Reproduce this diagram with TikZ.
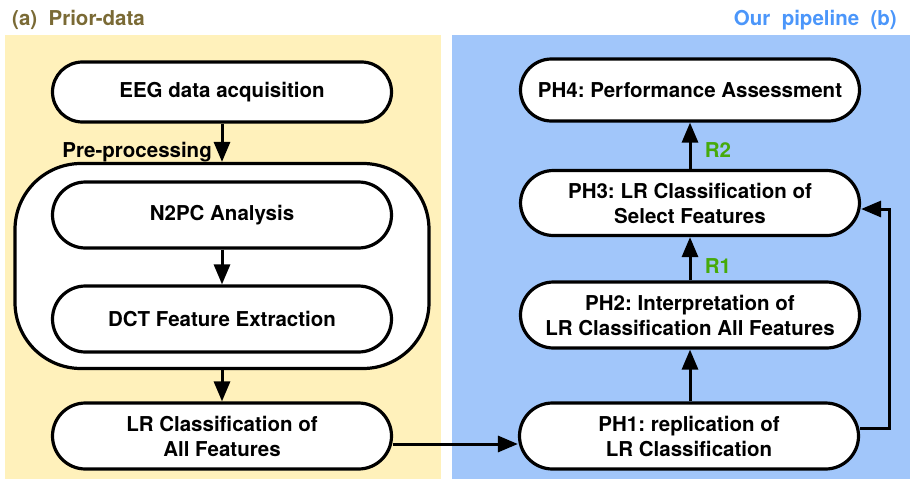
\documentclass[tikz,border=0pt]{standalone}
\usepackage{fontspec}
\setmainfont{TeX Gyre Heros}
\usetikzlibrary{positioning,arrows.meta}
\frenchspacing

\definecolor{priorbg}{RGB}{255,241,187}
\definecolor{pipebg}{RGB}{161,198,250}
\definecolor{priortxt}{RGB}{122,106,53}
\definecolor{pipetxt}{RGB}{75,150,250}
\definecolor{rgreen}{RGB}{70,170,10}

\tikzset{
  stage/.style={draw, rectangle, fill=white, line width=3.2pt, align=center,
    minimum width=339pt, minimum height=66pt, rounded corners=33pt, inner sep=2pt},
  stagesm/.style={stage, minimum height=60pt, rounded corners=30pt},
  arr/.style={line width=3pt, -{Triangle[length=20pt,width=16pt]}},
  rlabel/.style={text=rgreen, anchor=west}
}

\begin{document}
\begin{tikzpicture}[x=1pt, y=-1pt, font=\fontsize{20.5}{25}\selectfont\bfseries]
				\useasboundingbox (0,0) rectangle (910,479);
				% panels
				\fill[priorbg] (5,35) rectangle (441,479);
				\fill[pipebg] (452,35) rectangle (910,479);
				\node[anchor=base west, text=priortxt, inner sep=0pt] (titlea) at (12,25) {(a)\ \ Prior-data};
				\node[anchor=base east, text=pipetxt, inner sep=0pt] (titleb) at (897,25) {Our\ \ pipeline\ \ (b)};
				% prior-data side
				\node[stagesm] (eeg) at (222,92) {EEG data acquisition};
				\node[draw, fill=white, line width=3.2pt, rounded corners=66pt, minimum width=414pt, minimum height=205pt] (prep) at (222,266) {};
				\node[anchor=base east, inner sep=0pt] (preplab) at (212,157) {Pre-processing};
				\node[stage] (n2pc) at (222,215) {N2PC Analysis};
				\node[stage] (dct) at (222,319) {DCT Feature Extraction};
				\node[stage] (lrall) at (222,436) {LR Classification of\\All Features};
				% pipeline side
				\node[stagesm, minimum height=62pt, rounded corners=31pt] (ph4) at (690,90) {PH4: Performance Assessment};
				\node[stage, minimum height=65pt] (ph3) at (690,203) {PH3: LR Classification of\\Select Features};
				\node[stage] (ph2) at (690,315) {PH2: Interpretation of\\LR Classification All Features};
				\node[stage] (ph1) at (689,436) {PH1: replication of\\LR Classification};
				\coordinate (loop) at (889,300);
				% connectors
				\draw[arr] (eeg) -- (prep);
				\draw[arr] (n2pc) -- (dct);
				\draw[arr] (prep) -- (lrall);
				\draw[arr] ([yshift=-8pt]lrall.east) -- ([yshift=-8pt]ph1.west);
				\draw[arr] (ph1.north -| ph2) -- (ph2);
				\draw[arr] (ph2) -- node[rlabel, xshift=10pt, yshift=-7pt] (r1) {R1} (ph3);
				\draw[arr] (ph3) -- node[rlabel, xshift=10pt, yshift=-4pt] (r2) {R2} (ph4);
				\draw[arr] ([yshift=8pt]ph1.east) -| (loop) |- ([yshift=-6pt]ph3.east);
\end{tikzpicture}
\end{document}
